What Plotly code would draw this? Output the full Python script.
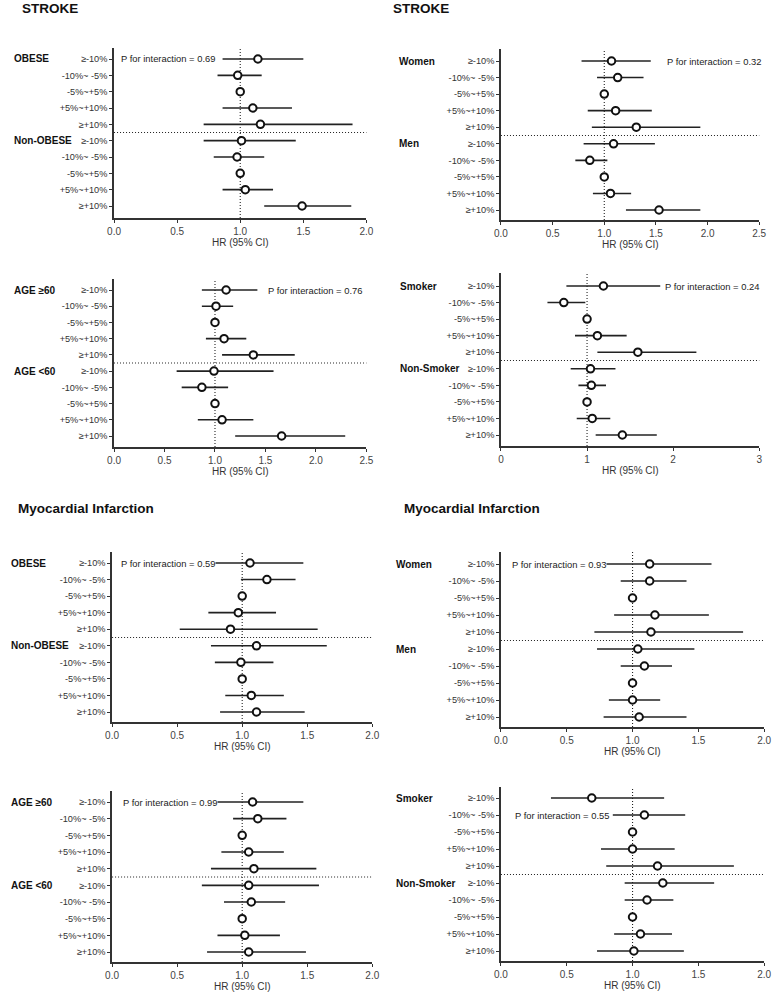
import plotly.graph_objects as go

W, H = 779, 994

row_labels = ["≥-10%", "-10%~ -5%", "-5%~+5%", "+5%~+10%", "≥+10%"]

# ---------------- data (HR, lower CI, upper CI), 5 rows group A then 5 rows group B
stroke_obese_hr = [1.14, 0.98, 1.00, 1.10, 1.16, 1.01, 0.975, 1.00, 1.04, 1.49]
stroke_obese_lo = [0.86, 0.82, 1.00, 0.86, 0.71, 0.71, 0.79, 1.00, 0.86, 1.19]
stroke_obese_hi = [1.50, 1.17, 1.00, 1.41, 1.89, 1.44, 1.19, 1.00, 1.26, 1.88]

stroke_sex_hr = [1.07, 1.13, 1.00, 1.11, 1.31, 1.09, 0.86, 1.00, 1.06, 1.53]
stroke_sex_lo = [0.78, 0.93, 1.00, 0.84, 0.88, 0.80, 0.72, 1.00, 0.89, 1.21]
stroke_sex_hi = [1.45, 1.38, 1.00, 1.46, 1.93, 1.49, 1.03, 1.00, 1.26, 1.93]

stroke_age_hr = [1.11, 1.01, 1.00, 1.09, 1.38, 0.99, 0.87, 1.00, 1.07, 1.66]
stroke_age_lo = [0.87, 0.87, 1.00, 0.91, 1.07, 0.62, 0.67, 1.00, 0.83, 1.20]
stroke_age_hi = [1.42, 1.18, 1.00, 1.31, 1.79, 1.58, 1.13, 1.00, 1.38, 2.29]

stroke_smk_hr = [1.19, 0.73, 1.00, 1.12, 1.59, 1.04, 1.05, 1.00, 1.06, 1.41]
stroke_smk_lo = [0.76, 0.54, 1.00, 0.86, 1.12, 0.81, 0.90, 1.00, 0.88, 1.10]
stroke_smk_hi = [1.85, 0.98, 1.00, 1.46, 2.27, 1.33, 1.22, 1.00, 1.27, 1.81]

mi_obese_hr = [1.06, 1.19, 1.00, 0.97, 0.91, 1.11, 0.99, 1.00, 1.07, 1.11]
mi_obese_lo = [0.74, 0.99, 1.00, 0.74, 0.52, 0.76, 0.79, 1.00, 0.87, 0.83]
mi_obese_hi = [1.47, 1.41, 1.00, 1.26, 1.58, 1.65, 1.24, 1.00, 1.32, 1.48]

mi_sex_hr = [1.13, 1.13, 1.00, 1.17, 1.14, 1.04, 1.09, 1.00, 1.00, 1.05]
mi_sex_lo = [0.78, 0.91, 1.00, 0.86, 0.71, 0.73, 0.91, 1.00, 0.82, 0.78]
mi_sex_hi = [1.60, 1.41, 1.00, 1.58, 1.84, 1.47, 1.30, 1.00, 1.21, 1.41]

mi_age_hr = [1.08, 1.12, 1.00, 1.05, 1.09, 1.05, 1.07, 1.00, 1.02, 1.05]
mi_age_lo = [0.76, 0.93, 1.00, 0.84, 0.76, 0.69, 0.86, 1.00, 0.81, 0.73]
mi_age_hi = [1.47, 1.34, 1.00, 1.32, 1.57, 1.59, 1.33, 1.00, 1.29, 1.49]

mi_smk_hr = [0.69, 1.09, 1.00, 1.00, 1.19, 1.23, 1.11, 1.00, 1.06, 1.01]
mi_smk_lo = [0.38, 0.85, 1.00, 0.76, 0.80, 0.94, 0.94, 1.00, 0.86, 0.73]
mi_smk_hi = [1.24, 1.40, 1.00, 1.32, 1.77, 1.62, 1.31, 1.00, 1.30, 1.39]

group_names = [
    ("OBESE", "Non-OBESE"), ("Women", "Men"), ("AGE ≥60", "AGE <60"), ("Smoker", "Non-Smoker"),
    ("OBESE", "Non-OBESE"), ("Women", "Men"), ("AGE ≥60", "AGE <60"), ("Smoker", "Non-Smoker"),
]
p_texts = ["P for interaction = 0.69", "P for interaction = 0.32", "P for interaction = 0.76",
           "P for interaction = 0.24", "P for interaction = 0.59", "P for interaction = 0.93",
           "P for interaction = 0.99", "P for interaction = 0.55"]
x_max = [2.0, 2.5, 2.5, 3.0, 2.0, 2.0, 2.0, 2.0]
x_tickvals = [[0, 0.5, 1, 1.5, 2], [0, 0.5, 1, 1.5, 2, 2.5], [0, 0.5, 1, 1.5, 2, 2.5], [0, 1, 2, 3],
              [0, 0.5, 1, 1.5, 2], [0, 0.5, 1, 1.5, 2], [0, 0.5, 1, 1.5, 2], [0, 0.5, 1, 1.5, 2]]
x_ticktext = [["0.0", "0.5", "1.0", "1.5", "2.0"], ["0.0", "0.5", "1.0", "1.5", "2.0", "2.5"],
              ["0.0", "0.5", "1.0", "1.5", "2.0", "2.5"], ["0", "1", "2", "3"],
              ["0.0", "0.5", "1.0", "1.5", "2.0"], ["0.0", "0.5", "1.0", "1.5", "2.0"],
              ["0.0", "0.5", "1.0", "1.5", "2.0"], ["0.0", "0.5", "1.0", "1.5", "2.0"]]

panels_data = [
    (stroke_obese_hr, stroke_obese_lo, stroke_obese_hi),
    (stroke_sex_hr, stroke_sex_lo, stroke_sex_hi),
    (stroke_age_hr, stroke_age_lo, stroke_age_hi),
    (stroke_smk_hr, stroke_smk_lo, stroke_smk_hi),
    (mi_obese_hr, mi_obese_lo, mi_obese_hi),
    (mi_sex_hr, mi_sex_lo, mi_sex_hi),
    (mi_age_hr, mi_age_lo, mi_age_hi),
    (mi_smk_hr, mi_smk_lo, mi_smk_hi),
]

# ---------------- layout geometry (pixels): x0, x1, axis top, row0, row9, axis bottom
geom = [
    (109, 366, 48, 59, 206, 218),
    (503, 766, 49, 61, 210, 220),
    (109, 366, 279, 290, 436, 447),
    (503, 766, 273, 286, 435, 446),
    (107, 372, 552, 563, 712, 722),
    (503, 771, 552, 564, 717, 727),
    (107, 372, 791, 802, 952, 962),
    (503, 771, 787, 798, 951, 961),
]
group_label_x = [5, 397, 5, 398, 2, 394, 2, 394]
# P text: (domain x, anchor, row)
p_pos = [(0.023, "left", 0), (1.012, "right", 0), (0.985, "right", 0), (1.004, "right", 0),
         (0.03, "left", 0), (0.037, "left", 0), (0.038, "left", 0), (0.049, "left", 1)]

FONT = "Liberation Sans, Arial, sans-serif"
DOT = "1px,2px"
fig = go.Figure()
layout = dict(width=W, height=H, margin=dict(l=0, r=0, t=0, b=0), autosize=False,
              paper_bgcolor="white", plot_bgcolor="white", showlegend=False,
              font=dict(family=FONT, color="#333"))
shapes = []
annotations = []

for i, ((hr, lo, hi), (x0, x1, top, r0, r9, bot)) in enumerate(zip(panels_data, geom)):
    n = "" if i == 0 else str(i + 1)
    sp = (r9 - r0) / 9.0
    y_top = -(r0 - top) / sp
    y_bot = 9 + (bot - r9) / sp
    rows = list(range(10))
    fig.add_trace(go.Scatter(
        x=hr, y=rows, mode="markers", xaxis="x" + n, yaxis="y" + n,
        marker=dict(symbol="circle", size=7.5, color="white", line=dict(color="#111", width=2)),
        error_x=dict(type="data", symmetric=False,
                     array=[h - m for h, m in zip(hi, hr)],
                     arrayminus=[m - l for m, l in zip(hr, lo)],
                     width=0, thickness=1.6, color="#222"),
        hoverinfo="skip"))
    layout["xaxis" + n] = dict(
        domain=[x0 / W, x1 / W], anchor="y" + n, range=[0, x_max[i]],
        tickvals=x_tickvals[i], ticktext=x_ticktext[i], ticks="outside", ticklen=3, tickwidth=1.2,
        tickcolor="#333", showline=True, linewidth=1.6, linecolor="#333", showgrid=False,
        zeroline=False, tickfont=dict(size=10, color="#444", family=FONT), fixedrange=True)
    layout["yaxis" + n] = dict(
        domain=[1 - bot / H, 1 - top / H], anchor="x" + n, range=[y_bot, y_top],
        tickvals=rows, ticktext=row_labels * 2, ticks="outside", ticklen=3, tickwidth=1.2,
        tickcolor="#333", showline=True, linewidth=1.6, linecolor="#333", showgrid=False,
        zeroline=False, tickfont=dict(size=9.2, color="#333", family=FONT), fixedrange=True)
    # reference line at HR = 1
    shapes.append(dict(type="line", xref="x" + n, yref="y" + n + " domain", x0=1, x1=1, y0=0, y1=1,
                       line=dict(color="#222", width=1.1, dash=DOT), layer="below"))
    # separator between groups
    shapes.append(dict(type="line", xref="x" + n + " domain", yref="y" + n, x0=0, x1=1, y0=4.5, y1=4.5,
                       line=dict(color="#222", width=1.1, dash=DOT), layer="below"))
    # group labels
    for g, ry in zip(group_names[i], (0, 5)):
        annotations.append(dict(text="<b>" + g + "</b>", xref="paper", yref="y" + n,
                                x=group_label_x[i] / W, y=ry, xanchor="left", yanchor="middle",
                                showarrow=False, font=dict(size=10, color="#111", family=FONT)))
    # P for interaction
    px_, anc, prow = p_pos[i]
    annotations.append(dict(text=p_texts[i], xref="x" + n + " domain", yref="y" + n,
                            x=px_, y=prow, xanchor=anc, yanchor="middle", showarrow=False,
                            bgcolor="white", borderpad=0,
                            font=dict(size=9.4, color="#222", family=FONT)))
    # x-axis title
    annotations.append(dict(text="HR (95% CI)", xref="paper", yref="paper",
                            x=(x0 + x1) / 2 / W, y=1 - (bot + 24.5) / H, xanchor="center",
                            yanchor="middle", showarrow=False,
                            font=dict(size=10, color="#333", family=FONT)))

# section titles
for txt, x, y in [("STROKE", 13, 8), ("STROKE", 391, 8),
                  ("Myocardial Infarction", 9, 508), ("Myocardial Infarction", 402, 509)]:
    annotations.append(dict(text="<b>" + txt + "</b>", xref="paper", yref="paper", x=x / W,
                            y=1 - y / H, xanchor="left", yanchor="middle", showarrow=False,
                            font=dict(size=13.5, color="#111", family=FONT)))

layout["shapes"] = shapes
layout["annotations"] = annotations
fig.update_layout(**layout)
fig.write_html("out.html", config={"displayModeBar": False},
               post_script="document.body.style.margin='0';document.body.style.overflow='hidden';")
